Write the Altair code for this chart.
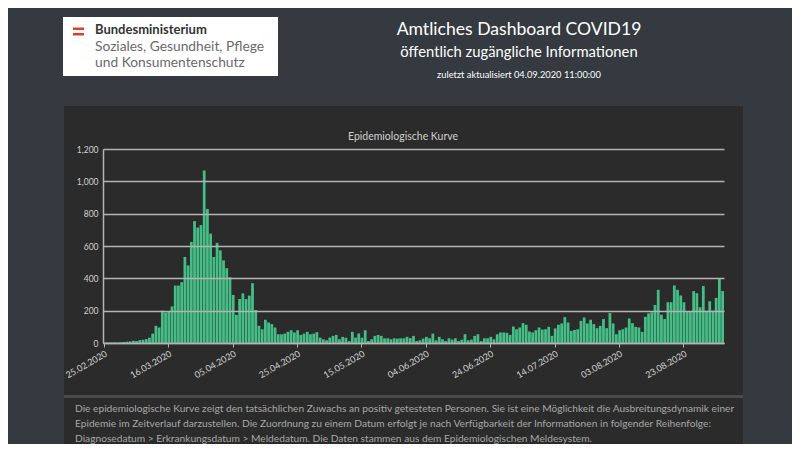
import altair as alt
import pandas as pd

# ---- data ----
cases = [
    2, 3, 3, 4, 3, 4, 6, 8, 10, 14,
    12, 18, 20, 24, 33, 58, 106, 96, 200, 189,
    195, 226, 355, 355, 376, 532, 480, 625, 754, 714,
    729, 1067, 829, 677, 532, 619, 573, 511, 463, 407,
    297, 174, 272, 307, 272, 293, 370, 204, 106, 85,
    144, 127, 117, 96, 54, 54, 58, 69, 79, 65,
    79, 50, 58, 69, 54, 58, 67, 33, 23, 17,
    33, 44, 50, 23, 38, 33, 12, 69, 33, 58,
    33, 79, 12, 23, 44, 50, 44, 29, 29, 23,
    29, 27, 29, 29, 38, 30, 44, 12, 17, 27,
    38, 29, 58, 17, 38, 23, 12, 29, 21, 29,
    12, 21, 54, 17, 21, 44, 54, 12, 29, 29,
    38, 23, 54, 65, 65, 63, 50, 102, 85, 96,
    123, 113, 71, 65, 79, 96, 83, 85, 100, 44,
    90, 113, 121, 160, 127, 75, 81, 85, 137, 158,
    121, 144, 117, 92, 106, 148, 92, 185, 121, 54,
    79, 85, 96, 152, 123, 100, 96, 69, 162, 183,
    190, 235, 329, 175, 148, 252, 252, 356, 329, 294,
    252, 196, 196, 321, 308, 221, 352, 200, 258, 200,
    279, 398, 321,
]
dates = list(pd.date_range("2020-02-25", periods=len(cases), freq="D").strftime("%d.%m.%Y"))
tick_dates = dates[::20]
y_ticks = [0, 200, 400, 600, 800, 1000, 1200]

header_title = "Amtliches Dashboard COVID19"
header_sub = "öffentlich zugängliche Informationen"
header_upd = "zuletzt aktualisiert 04.09.2020 11:00:00"
logo_lines = ["Bundesministerium", "Soziales, Gesundheit, Pflege", "und Konsumentenschutz"]
chart_title = "Epidemiologische Kurve"
note_lines = [
    "Die epidemiologische Kurve zeigt den tatsächlichen Zuwachs an positiv getesteten Personen. Sie ist eine Möglichkeit die Ausbreitungsdynamik einer",
    "Epidemie im Zeitverlauf darzustellen. Die Zuordnung zu einem Datum erfolgt je nach Verfügbarkeit der Informationen in folgender Reihenfolge:",
    "Diagnosedatum > Erkrankungsdatum > Meldedatum. Die Daten stammen aus dem Epidemiologischen Meldesystem.",
]

df = pd.DataFrame({"Datum": dates, "Fälle": cases})

PAGE_BG = "#343a40"
PANEL_BG = "#2b2b2b"
GRID = "#b4b4b4"
TXT = "#d0d0d0"
FONT = "Lato"

one = alt.Data(values=[{}])


def rect(x1, x2, y1, y2, color):
    return alt.Chart(one).mark_rect(color=color).encode(
        x=alt.value(x1), x2=alt.value(x2), y=alt.value(y1), y2=alt.value(y2)
    )


def text(t, x, y, size, color, align="left", weight="normal"):
    return alt.Chart(one).mark_text(
        text=t, align=align, baseline="alphabetic", fontSize=size, color=color,
        font=FONT, fontWeight=weight
    ).encode(x=alt.value(x), y=alt.value(y))


decor = [
    rect(-39, 640, -43, 246, PANEL_BG),
    rect(-39, 640, 246, 249, "#4a4a4a"),
    rect(-39, 640, 249, 300, PANEL_BG),
    rect(-40, 175, -132, -73, "#ffffff"),
    rect(-30, -19, -121.5, -119, "#d9412b"),
    rect(-30, -19, -116, -113.5, "#d9412b"),
]

bars = alt.Chart(df).mark_bar(color="#45bd86").encode(
    x=alt.X(
        "Datum:O",
        sort=dates,
        scale=alt.Scale(paddingInner=0.14, paddingOuter=0),
        axis=alt.Axis(
            values=tick_dates, labelAngle=-30, labelAlign="right", labelBaseline="top",
            labelColor=TXT, labelFontSize=9, labelFont=FONT, labelPadding=2,
            domainColor=GRID, domainWidth=1.5, tickColor=GRID, tickSize=4, tickWidth=1,
            title=None, grid=False, zindex=1,
        ),
    ),
    y=alt.Y(
        "Fälle:Q",
        scale=alt.Scale(domain=[0, 1200]),
        axis=alt.Axis(
            values=y_ticks, format=",d", labelColor=TXT, labelFontSize=8.5, labelFont=FONT,
            labelPadding=5, ticks=False, domainColor=GRID, domainWidth=1.5,
            grid=True, gridColor=GRID, gridWidth=1.5, title=None, zindex=1,
        ),
    ),
)

texts = [
    text(logo_lines[0], -8, -115, 13, "#333333", weight="bold"),
    text(logo_lines[1], -8, -98, 13.8, "#6a6a6a"),
    text(logo_lines[2], -8, -82, 13.8, "#6a6a6a"),
    text(header_title, 416, -114, 17.6, "#ffffff", align="center"),
    text(header_sub, 416, -92, 14.8, "#ffffff", align="center"),
    text(header_upd, 416, -71, 9.3, "#ffffff", align="center"),
    text(chart_title, 300, -9, 10.5, TXT, align="center"),
    text(note_lines[0], -28, 263, 10.2, "#a8a8a8"),
    text(note_lines[1], -28, 278, 10.2, "#a8a8a8"),
    text(note_lines[2], -28, 293, 10.2, "#a8a8a8"),
]

chart = alt.layer(*decor, bars, *texts).properties(
    width=621,
    height=194,
    padding={"left": 95, "top": 141, "right": 68, "bottom": 101},
    autosize=alt.AutoSizeParams(type="none"),
).configure(background=PAGE_BG).configure_view(strokeWidth=0)

chart.save("out.html", embed_options={"renderer": "svg", "actions": False})
